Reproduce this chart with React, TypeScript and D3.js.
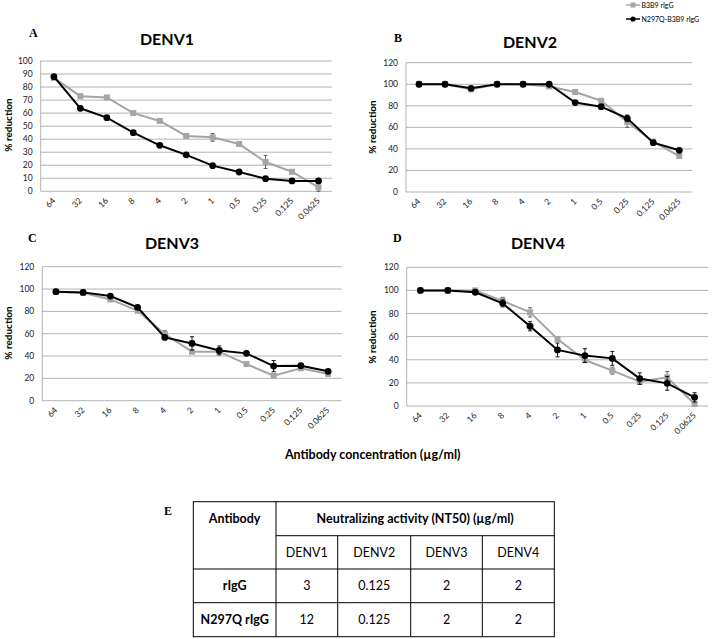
import React from "react";
import * as d3 from "d3";

const concentrations = ["64", "32", "16", "8", "4", "2", "1", "0.5", "0.25", "0.125", "0.0625"];
const seriesNames = ["B3B9 rIgG", "N297Q-B3B9 rIgG"];

const denv1Gray = [87, 73, 72, 60, 54, 42.5, 41.4, 36.3, 22.5, 15, 3];
const denv1Black = [88, 63.7, 56.5, 45, 35.3, 28, 19.7, 14.8, 9.7, 8, 8];
const denv1GrayErr = [0, 0, 0, 0, 0, 0, 3, 0, 5, 0, 3];
const denv1BlackErr = [0, 0, 0, 0, 0, 0, 0, 0, 0, 0, 0];

const denv2Gray = [100, 100, 95.3, 100, 100, 98, 92.8, 84.7, 65, 46.7, 33.4];
const denv2Black = [100, 100, 96.2, 100, 100, 100, 83, 79.2, 68.4, 45.8, 38.7];
const denv2GrayErr = [0, 0, 0, 0, 0, 0, 0, 0, 5, 0, 0];
const denv2BlackErr = [0, 0, 0, 0, 0, 0, 0, 0, 3, 0, 0];

const denv3Gray = [97.6, 96.7, 90.7, 80.6, 59.7, 43.9, 43.9, 32.8, 22.4, 29, 23.9];
const denv3Black = [97.6, 97, 93.7, 83.6, 56.7, 51.3, 45, 42.4, 31, 31.3, 26.3];
const denv3GrayErr = [0, 0, 0, 0, 3, 0, 0, 0, 0, 0, 0];
const denv3BlackErr = [0, 0, 0, 0, 0, 6, 4, 0, 5, 0, 0];

const denv4Gray = [100, 100, 100, 91, 81, 58, 39.8, 30.6, 21, 24.8, 1.7];
const denv4Black = [100, 100, 98.4, 88.8, 69, 48.5, 43.6, 41.2, 23.7, 19.6, 7.5];
const denv4GrayErr = [0, 0, 0, 3, 4, 0, 0, 3, 0, 5, 0];
const denv4BlackErr = [0, 0, 0, 3, 4, 6, 6, 6, 5, 6, 4];

const tableVirus = ["DENV1", "DENV2", "DENV3", "DENV4"];
const tableRowNames = ["rIgG", "N297Q rIgG"];
const tableRIgG = ["3", "0.125", "2", "2"];
const tableN297Q = ["12", "0.125", "2", "2"];

const GRAY = "#a5a5a5";
const GRID = "#a0a0a0";
const FONT = "Lato, 'Open Sans', sans-serif";

type PanelCfg = {
  title: string;
  letter: string;
  left: number;
  right: number;
  yTop: number;
  y0: number;
  yMax: number;
  yStep: number;
  titleX: number;
  titleY: number;
  letterX: number;
  letterY: number;
  ylabX: number;
  ylabY: number;
  gray: number[];
  black: number[];
  grayErr: number[];
  blackErr: number[];
};

const panels: PanelCfg[] = [
  { title: "DENV1", letter: "A", left: 40.7, right: 331.7, yTop: 61, y0: 191.3, yMax: 100, yStep: 10,
    titleX: 167, titleY: 45, letterX: 29, letterY: 37, ylabX: 12, ylabY: 125,
    gray: denv1Gray, black: denv1Black, grayErr: denv1GrayErr, blackErr: denv1BlackErr },
  { title: "DENV2", letter: "B", left: 406, right: 692.3, yTop: 62.7, y0: 192, yMax: 120, yStep: 20,
    titleX: 530, titleY: 47.5, letterX: 394, letterY: 41.5, ylabX: 376, ylabY: 127,
    gray: denv2Gray, black: denv2Black, grayErr: denv2GrayErr, blackErr: denv2BlackErr },
  { title: "DENV3", letter: "C", left: 42.3, right: 341.7, yTop: 266.7, y0: 400.7, yMax: 120, yStep: 20,
    titleX: 172, titleY: 249, letterX: 28, letterY: 242, ylabX: 12, ylabY: 333,
    gray: denv3Gray, black: denv3Black, grayErr: denv3GrayErr, blackErr: denv3BlackErr },
  { title: "DENV4", letter: "D", left: 406.7, right: 708.3, yTop: 267.3, y0: 406, yMax: 120, yStep: 20,
    titleX: 538, titleY: 249, letterX: 393, letterY: 241.5, ylabX: 376, ylabY: 337,
    gray: denv4Gray, black: denv4Black, grayErr: denv4GrayErr, blackErr: denv4BlackErr },
];

function Panel({ p }: { p: PanelCfg }) {
  const x = d3.scalePoint<string>().domain(concentrations).range([p.left, p.right]).padding(0.5);
  const y = d3.scaleLinear().domain([0, p.yMax]).range([p.y0, p.yTop]);
  const ticks = d3.range(0, p.yMax + 0.001, p.yStep);
  const line = d3
    .line<number>()
    .x((_, i) => x(concentrations[i]) as number)
    .y((d) => y(d));
  const errBars = (vals: number[], errs: number[], color: string) =>
    vals.map((v, i) =>
      errs[i] > 0 ? (
        <g key={i} stroke={color} strokeWidth={0.9}>
          <line x1={x(concentrations[i])} x2={x(concentrations[i])} y1={y(v - errs[i])} y2={y(v + errs[i])} />
          <line x1={(x(concentrations[i]) as number) - 2} x2={(x(concentrations[i]) as number) + 2} y1={y(v - errs[i])} y2={y(v - errs[i])} />
          <line x1={(x(concentrations[i]) as number) - 2} x2={(x(concentrations[i]) as number) + 2} y1={y(v + errs[i])} y2={y(v + errs[i])} />
        </g>
      ) : null
    );
  return (
    <g>
      <text x={p.letterX} y={p.letterY} fontFamily="'Liberation Serif', 'DejaVu Serif', serif" fontWeight="bold" fontSize={12}>
        {p.letter}
      </text>
      <text x={p.titleX} y={p.titleY} textAnchor="middle" fontFamily={FONT} fontWeight="bold" fontSize={16}>
        {p.title}
      </text>
      {ticks.map((t) => (
        <g key={t}>
          <line x1={p.left} x2={p.right} y1={y(t)} y2={y(t)} stroke={GRID} strokeWidth={0.8} />
          <text x={p.left - 8} y={y(t) + 3} textAnchor="end" fontFamily={FONT} fontSize={8.5} fill="#222">
            {t}
          </text>
        </g>
      ))}
      <line x1={p.left} x2={p.left} y1={p.yTop} y2={p.y0} stroke={GRID} strokeWidth={0.8} />
      <text
        transform={`translate(${p.ylabX},${p.ylabY}) rotate(-90)`}
        textAnchor="middle"
        fontFamily={FONT}
        fontWeight="bold"
        fontSize={10}
      >
        % reduction
      </text>
      {concentrations.map((c) => (
        <text
          key={c}
          transform={`translate(${(x(c) as number) + 2},${p.y0 + 10}) rotate(-45)`}
          textAnchor="end"
          fontFamily={FONT}
          fontSize={8.5}
          fill="#222"
        >
          {c}
        </text>
      ))}
      {errBars(p.gray, p.grayErr, "#555")}
      <path d={line(p.gray) || ""} fill="none" stroke={GRAY} strokeWidth={2} />
      {p.gray.map((v, i) => (
        <rect key={i} x={(x(concentrations[i]) as number) - 3} y={y(v) - 3} width={6} height={6} fill={GRAY} />
      ))}
      {errBars(p.black, p.blackErr, "#000")}
      <path d={line(p.black) || ""} fill="none" stroke="#000" strokeWidth={2} />
      {p.black.map((v, i) => (
        <circle key={i} cx={x(concentrations[i])} cy={y(v)} r={3.4} fill="#000" />
      ))}
    </g>
  );
}

function Legend() {
  return (
    <g fontFamily={FONT} fontSize={7}>
      <line x1={626} x2={640} y1={5} y2={5} stroke={GRAY} strokeWidth={1.5} />
      <rect x={630.5} y={2.5} width={5} height={5} fill={GRAY} />
      <text x={641.5} y={7.5}>{seriesNames[0]}</text>
      <line x1={626} x2={640} y1={19} y2={19} stroke="#000" strokeWidth={1.5} />
      <circle cx={633} cy={19} r={2.6} fill="#000" />
      <text x={641.5} y={21.5}>{seriesNames[1]}</text>
    </g>
  );
}

function Table() {
  const L = 193.3, R = 554.3;
  const cols = [L, 276, 337.7, 410.7, 482.3, R];
  const rows = [501.7, 535.7, 569, 602.7, 636.7];
  const cx = (i: number) => (cols[i] + cols[i + 1]) / 2;
  const cy = (j: number) => (rows[j] + rows[j + 1]) / 2 + 4.5;
  return (
    <g fontFamily={FONT} fontSize={12.5}>
      <text x={164} y={515} fontFamily="'Liberation Serif', 'DejaVu Serif', serif" fontWeight="bold" fontSize={12}>
        E
      </text>
      <g stroke="#000" strokeWidth={1}>
        <rect x={L} y={rows[0]} width={R - L} height={rows[4] - rows[0]} fill="none" />
        <line x1={cols[1]} x2={R} y1={rows[1]} y2={rows[1]} />
        <line x1={L} x2={R} y1={rows[2]} y2={rows[2]} />
        <line x1={L} x2={R} y1={rows[3]} y2={rows[3]} />
        <line x1={cols[1]} x2={cols[1]} y1={rows[0]} y2={rows[4]} />
        {[2, 3, 4].map((k) => (
          <line key={k} x1={cols[k]} x2={cols[k]} y1={rows[1]} y2={rows[4]} />
        ))}
      </g>
      <text x={cx(0)} y={cy(0)} textAnchor="middle" fontWeight="bold">Antibody</text>
      <text x={(cols[1] + R) / 2} y={cy(0)} textAnchor="middle" fontWeight="bold">
        Neutralizing activity (NT50) (µg/ml)
      </text>
      {tableVirus.map((v, i) => (
        <text key={v} x={cx(i + 1)} y={cy(1)} textAnchor="middle">{v}</text>
      ))}
      <text x={cx(0)} y={cy(2)} textAnchor="middle" fontWeight="bold">{tableRowNames[0]}</text>
      {tableRIgG.map((v, i) => (
        <text key={i} x={cx(i + 1)} y={cy(2)} textAnchor="middle">{v}</text>
      ))}
      <text x={cx(0)} y={cy(3)} textAnchor="middle" fontWeight="bold">{tableRowNames[1]}</text>
      {tableN297Q.map((v, i) => (
        <text key={i} x={cx(i + 1)} y={cy(3)} textAnchor="middle">{v}</text>
      ))}
    </g>
  );
}

export default function App() {
  return (
    <svg
      width={719}
      height={639}
      style={{ position: "absolute", left: 0, top: 0, background: "#fff" }}
    >
      <rect width={719} height={639} fill="#fff" />
      <Legend />
      {panels.map((p) => (
        <Panel key={p.title} p={p} />
      ))}
      <text x={372.7} y={459} textAnchor="middle" fontFamily={FONT} fontWeight="bold" fontSize={12.5}>
        Antibody concentration (µg/ml)
      </text>
      <Table />
    </svg>
  );
}
